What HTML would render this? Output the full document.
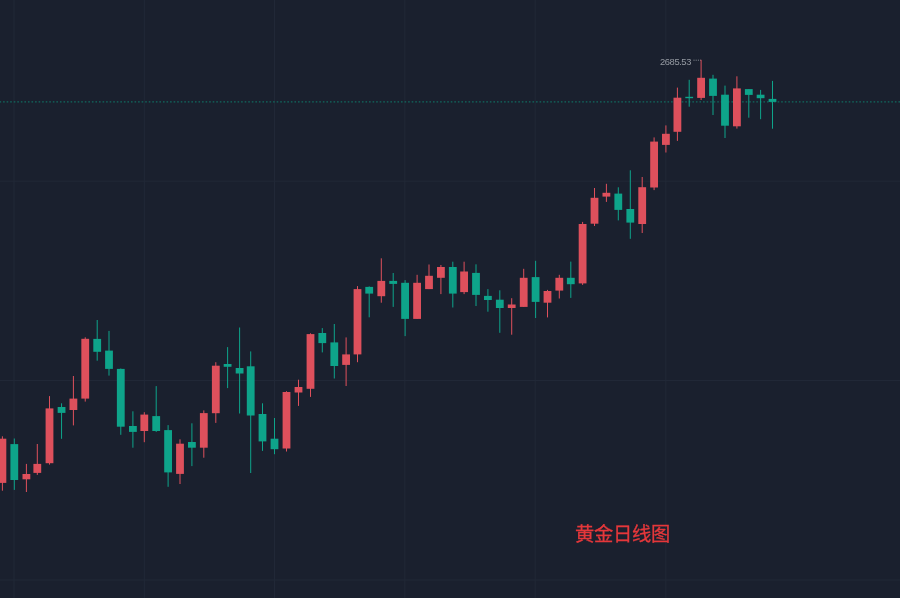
<!DOCTYPE html>
<html><head><meta charset="utf-8"><style>
html,body{margin:0;padding:0;background:#1a202e;width:900px;height:598px;overflow:hidden}
svg{position:absolute;left:0;top:0}
.lbl{position:absolute;left:660px;top:56px;font-family:"Liberation Sans",sans-serif;font-size:9.4px;letter-spacing:-0.42px;color:#959aa2;line-height:12px;white-space:nowrap;will-change:transform}
.ttl{position:absolute;left:575px;top:522.4px;font-family:"Liberation Sans",sans-serif;font-size:19.3px;color:#e5383b;line-height:26px;white-space:nowrap;will-change:transform;-webkit-text-stroke:0.3px #e5383b}
</style></head><body>
<svg width="900" height="598" viewBox="0 0 900 598">
<rect x="13.5" y="0" width="1" height="598" fill="#212837"/><rect x="143.8" y="0" width="1" height="598" fill="#212837"/><rect x="274" y="0" width="1" height="598" fill="#212837"/><rect x="404.3" y="0" width="1" height="598" fill="#212837"/><rect x="534.7" y="0" width="1" height="598" fill="#212837"/><rect x="665.3" y="0" width="1" height="598" fill="#212837"/><rect x="0" y="180.7" width="900" height="1" fill="#212837"/><rect x="0" y="380" width="900" height="1" fill="#212837"/><rect x="0" y="579.5" width="900" height="1" fill="#212837"/>
<line x1="0" y1="101.9" x2="900" y2="101.9" stroke="#116a5f" stroke-width="1.3" stroke-dasharray="1.6 1.953" stroke-dashoffset="0.47"/>
<line x1="693.5" y1="60.2" x2="701" y2="60.2" stroke="#8a8f98" stroke-width="1" stroke-dasharray="1 1.2"/>
<rect x="1.9" y="436.3" width="1" height="54.4" fill="#de505c"/><rect x="-1.5" y="438.7" width="7.8" height="44.2" fill="#de505c"/><rect x="13.8" y="438.5" width="1" height="51.4" fill="#0ea48a"/><rect x="10.4" y="444.1" width="7.8" height="35.9" fill="#0ea48a"/><rect x="25.9" y="463.9" width="1" height="28.1" fill="#de505c"/><rect x="22.5" y="474" width="7.8" height="5.3" fill="#de505c"/><rect x="36.8" y="444" width="1" height="30.9" fill="#de505c"/><rect x="33.4" y="463.9" width="7.8" height="9" fill="#de505c"/><rect x="49" y="396.1" width="1" height="68.5" fill="#de505c"/><rect x="45.6" y="408.4" width="7.8" height="54.8" fill="#de505c"/><rect x="61.05" y="403.3" width="1" height="35.5" fill="#0ea48a"/><rect x="57.65" y="407" width="7.8" height="5.9" fill="#0ea48a"/><rect x="72.9" y="376" width="1" height="49.4" fill="#de505c"/><rect x="69.5" y="398.6" width="7.8" height="11.4" fill="#de505c"/><rect x="84.74" y="337.3" width="1" height="64.3" fill="#de505c"/><rect x="81.34" y="338.8" width="7.8" height="59.8" fill="#de505c"/><rect x="96.7" y="320" width="1" height="40.7" fill="#0ea48a"/><rect x="93.3" y="338.9" width="7.8" height="12.9" fill="#0ea48a"/><rect x="108.5" y="330.9" width="1" height="44.7" fill="#0ea48a"/><rect x="105.1" y="350.6" width="7.8" height="18.3" fill="#0ea48a"/><rect x="120.28" y="368.5" width="1" height="66.3" fill="#0ea48a"/><rect x="116.88" y="368.9" width="7.8" height="57.8" fill="#0ea48a"/><rect x="132.4" y="411.3" width="1" height="36.4" fill="#0ea48a"/><rect x="129" y="426" width="7.8" height="5.9" fill="#0ea48a"/><rect x="143.8" y="412.2" width="1" height="30" fill="#de505c"/><rect x="140.4" y="414.6" width="7.8" height="16.4" fill="#de505c"/><rect x="155.7" y="386.1" width="1" height="45.8" fill="#0ea48a"/><rect x="152.3" y="416.1" width="7.8" height="14.9" fill="#0ea48a"/><rect x="167.6" y="425.1" width="1" height="61.7" fill="#0ea48a"/><rect x="164.2" y="430.1" width="7.8" height="42.3" fill="#0ea48a"/><rect x="179.5" y="439.3" width="1" height="44.7" fill="#de505c"/><rect x="176.1" y="443.7" width="7.8" height="30.2" fill="#de505c"/><rect x="191.4" y="423.3" width="1" height="42.8" fill="#0ea48a"/><rect x="188" y="442" width="7.8" height="5.7" fill="#0ea48a"/><rect x="203.3" y="410.4" width="1" height="47.3" fill="#de505c"/><rect x="199.9" y="413.1" width="7.8" height="34.6" fill="#de505c"/><rect x="215.3" y="362.2" width="1" height="60.7" fill="#de505c"/><rect x="211.9" y="365.7" width="7.8" height="47.5" fill="#de505c"/><rect x="227.1" y="347.1" width="1" height="41" fill="#0ea48a"/><rect x="223.7" y="364" width="7.8" height="2.8" fill="#0ea48a"/><rect x="239.1" y="327.5" width="1" height="86" fill="#0ea48a"/><rect x="235.7" y="368" width="7.8" height="5.5" fill="#0ea48a"/><rect x="250.2" y="351.4" width="1" height="121.6" fill="#0ea48a"/><rect x="246.8" y="366.3" width="7.8" height="49.2" fill="#0ea48a"/><rect x="262" y="403.3" width="1" height="47.6" fill="#0ea48a"/><rect x="258.6" y="414" width="7.8" height="27.4" fill="#0ea48a"/><rect x="274" y="418" width="1" height="36.2" fill="#0ea48a"/><rect x="270.6" y="438.7" width="7.8" height="10.5" fill="#0ea48a"/><rect x="286" y="391.2" width="1" height="60.3" fill="#de505c"/><rect x="282.6" y="392" width="7.8" height="56.5" fill="#de505c"/><rect x="298" y="379.7" width="1" height="26.2" fill="#de505c"/><rect x="294.6" y="387" width="7.8" height="5.5" fill="#de505c"/><rect x="310" y="333.3" width="1" height="63.6" fill="#de505c"/><rect x="306.6" y="334.1" width="7.8" height="54.7" fill="#de505c"/><rect x="321.8" y="328.1" width="1" height="24.3" fill="#0ea48a"/><rect x="318.4" y="333" width="7.8" height="10.1" fill="#0ea48a"/><rect x="333.8" y="324" width="1" height="54.5" fill="#0ea48a"/><rect x="330.4" y="342.4" width="7.8" height="23.6" fill="#0ea48a"/><rect x="345.6" y="337.4" width="1" height="48.6" fill="#de505c"/><rect x="342.2" y="354.4" width="7.8" height="10.5" fill="#de505c"/><rect x="357" y="286.1" width="1" height="76.1" fill="#de505c"/><rect x="353.6" y="289.1" width="7.8" height="65.3" fill="#de505c"/><rect x="368.7" y="286.4" width="1" height="30.9" fill="#0ea48a"/><rect x="365.3" y="286.9" width="7.8" height="6.7" fill="#0ea48a"/><rect x="380.8" y="258.3" width="1" height="44.4" fill="#de505c"/><rect x="377.4" y="280.9" width="7.8" height="15.3" fill="#de505c"/><rect x="392.7" y="273" width="1" height="33.9" fill="#0ea48a"/><rect x="389.3" y="280.9" width="7.8" height="3" fill="#0ea48a"/><rect x="404.6" y="280.1" width="1" height="56" fill="#0ea48a"/><rect x="401.2" y="282.8" width="7.8" height="36.1" fill="#0ea48a"/><rect x="416.6" y="274.8" width="1" height="44.1" fill="#de505c"/><rect x="413.2" y="282.8" width="7.8" height="36.1" fill="#de505c"/><rect x="428.5" y="264.5" width="1" height="24.6" fill="#de505c"/><rect x="425.1" y="275.8" width="7.8" height="13.3" fill="#de505c"/><rect x="440.4" y="265" width="1" height="29.1" fill="#de505c"/><rect x="437" y="267" width="7.8" height="10.8" fill="#de505c"/><rect x="452.3" y="261.7" width="1" height="45.8" fill="#0ea48a"/><rect x="448.9" y="267" width="7.8" height="26.6" fill="#0ea48a"/><rect x="463.6" y="261.7" width="1" height="32.4" fill="#de505c"/><rect x="460.2" y="271.5" width="7.8" height="20.6" fill="#de505c"/><rect x="475.5" y="264.3" width="1" height="41.7" fill="#0ea48a"/><rect x="472.1" y="272.9" width="7.8" height="22" fill="#0ea48a"/><rect x="487.4" y="289.1" width="1" height="22.6" fill="#0ea48a"/><rect x="484" y="295.9" width="7.8" height="4.1" fill="#0ea48a"/><rect x="499.3" y="290.3" width="1" height="42.5" fill="#0ea48a"/><rect x="495.9" y="299.7" width="7.8" height="8.3" fill="#0ea48a"/><rect x="511.2" y="298.2" width="1" height="36.5" fill="#de505c"/><rect x="507.8" y="304.5" width="7.8" height="3.5" fill="#de505c"/><rect x="523.2" y="268.8" width="1" height="38.1" fill="#de505c"/><rect x="519.8" y="277.8" width="7.8" height="29.1" fill="#de505c"/><rect x="535.1" y="260.8" width="1" height="57.2" fill="#0ea48a"/><rect x="531.7" y="277.1" width="7.8" height="24.8" fill="#0ea48a"/><rect x="547" y="289.9" width="1" height="27.5" fill="#de505c"/><rect x="543.6" y="291" width="7.8" height="11.7" fill="#de505c"/><rect x="558.8" y="274.8" width="1" height="23.7" fill="#de505c"/><rect x="555.4" y="277.8" width="7.8" height="12.8" fill="#de505c"/><rect x="570.3" y="261.6" width="1" height="36.3" fill="#0ea48a"/><rect x="566.9" y="277.8" width="7.8" height="6.4" fill="#0ea48a"/><rect x="582.1" y="221.9" width="1" height="63" fill="#de505c"/><rect x="578.7" y="224" width="7.8" height="59.4" fill="#de505c"/><rect x="594" y="188" width="1" height="38" fill="#de505c"/><rect x="590.6" y="197.8" width="7.8" height="25.9" fill="#de505c"/><rect x="605.9" y="183.8" width="1" height="18.1" fill="#de505c"/><rect x="602.5" y="192.8" width="7.8" height="3.8" fill="#de505c"/><rect x="617.8" y="187.3" width="1" height="33.1" fill="#0ea48a"/><rect x="614.4" y="193.6" width="7.8" height="16.3" fill="#0ea48a"/><rect x="629.8" y="170.3" width="1" height="68.5" fill="#0ea48a"/><rect x="626.4" y="209" width="7.8" height="13.6" fill="#0ea48a"/><rect x="641.7" y="177" width="1" height="56" fill="#de505c"/><rect x="638.3" y="187.2" width="7.8" height="36.8" fill="#de505c"/><rect x="653.6" y="137.4" width="1" height="52.7" fill="#de505c"/><rect x="650.2" y="141.6" width="7.8" height="45.9" fill="#de505c"/><rect x="665.4" y="125.4" width="1" height="27.1" fill="#de505c"/><rect x="662" y="133.8" width="7.8" height="11.1" fill="#de505c"/><rect x="676.9" y="87.6" width="1" height="53.3" fill="#de505c"/><rect x="673.5" y="97.7" width="7.8" height="34.1" fill="#de505c"/><rect x="688.7" y="79.8" width="1" height="26.9" fill="#0ea48a"/><rect x="685.3" y="96.8" width="7.8" height="1.4" fill="#0ea48a"/><rect x="700.6" y="59.8" width="1" height="40.2" fill="#de505c"/><rect x="697.2" y="77.8" width="7.8" height="20.1" fill="#de505c"/><rect x="712.5" y="74.8" width="1" height="40.2" fill="#0ea48a"/><rect x="709.1" y="78.6" width="7.8" height="17.3" fill="#0ea48a"/><rect x="724.5" y="85.6" width="1" height="52.4" fill="#0ea48a"/><rect x="721.1" y="94.7" width="7.8" height="31" fill="#0ea48a"/><rect x="736.4" y="76.3" width="1" height="52.3" fill="#de505c"/><rect x="733" y="88.4" width="7.8" height="37.9" fill="#de505c"/><rect x="748.3" y="89.1" width="1" height="28.6" fill="#0ea48a"/><rect x="744.9" y="89.1" width="7.8" height="5.8" fill="#0ea48a"/><rect x="760.1" y="89.9" width="1" height="29.3" fill="#0ea48a"/><rect x="756.7" y="94.7" width="7.8" height="3.5" fill="#0ea48a"/><rect x="772" y="80.9" width="1" height="47.8" fill="#0ea48a"/><rect x="768.6" y="98.9" width="7.8" height="3" fill="#0ea48a"/>
</svg>
<div class="lbl">2685.53</div>
<div class="ttl" lang="zh-CN">黄金日线图</div>
</body></html>
